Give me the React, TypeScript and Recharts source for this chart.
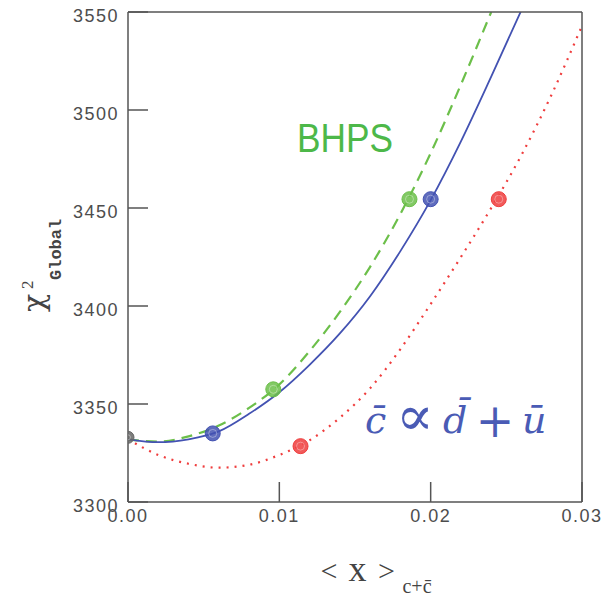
import React from 'react';
import { ComposedChart, Line, Scatter, XAxis, YAxis } from 'recharts';

// sampled curves, chi2 vs <x>_{c+cbar}
const xSamples = [0, 0.002, 0.004, 0.006, 0.008, 0.01, 0.012, 0.014, 0.016, 0.018, 0.02, 0.022, 0.024, 0.026, 0.028, 0.03];
const chi2Blue = [3332, 3330.5, 3332, 3336, 3345, 3356, 3370, 3386, 3405, 3428, 3454, 3484, 3517, 3551, null, null];
const chi2Green = [3332, 3330.8, 3333.5, 3339, 3348, 3360, 3377, 3397, 3420, 3447, 3478, 3513, 3550, null, null, null];
const chi2Red = [3332, 3324, 3319.5, 3317.5, 3319, 3324, 3331.5, 3343, 3358, 3378, 3401, 3425, 3450, 3477, 3508, 3543];

// fitted points
const blueMarkX = [0.0056, 0.02];
const blueMarkChi2 = [3335, 3454.5];
const greenMarkX = [0.0096, 0.0186];
const greenMarkChi2 = [3357.5, 3454.5];
const redMarkX = [0.0114, 0.0245];
const redMarkChi2 = [3328.5, 3454.5];
const zeroMarkX = [0];
const zeroMarkChi2 = [3333];

// axes
const xMajorTicks = [0, 0.01, 0.02, 0.03];
const xMinorTicks = [0, 0.002, 0.004, 0.006, 0.008, 0.01, 0.012, 0.014, 0.016, 0.018, 0.02, 0.022, 0.024, 0.026, 0.028, 0.03];
const xTickLabels = ['0.00', '0.01', '0.02', '0.03'];
const yMajorTicks = [3300, 3350, 3400, 3450, 3500, 3550];
const yMinorTicks = [3300, 3310, 3320, 3330, 3340, 3350, 3360, 3370, 3380, 3390, 3400, 3410, 3420, 3430, 3440, 3450, 3460, 3470, 3480, 3490, 3500, 3510, 3520, 3530, 3540, 3550];
const yTickLabels = ['3300', '3350', '3400', '3450', '3500', '3550'];

const X_DOMAIN = [0, 0.03];
const Y_DOMAIN = [3300, 3550];

const BLUE = '#4352b2';
const GREEN = '#6cbf4a';
const RED = '#ef3d3d';
const AXIS = '#555';

const toPoints = (xs: number[], ys: (number | null)[]) =>
  xs.map((x, i) => ({ x, y: ys[i] })).filter(p => p.y != null);

const tickFont = { fontFamily: 'Liberation Sans, Arial, sans-serif', fontSize: 18, fill: '#4d4d4d', letterSpacing: 1.5 };
const lineStyle = { stroke: AXIS, strokeWidth: 1.5 };

// labels: tickSize -20 (inward) + tickMargin 20 puts the label anchor back on the axis line
const BottomLabel = (props: any) => (
  <text x={props.x} y={props.y + 20} textAnchor="middle" {...tickFont}>{xTickLabels[props.index]}</text>
);

const LeftLabel = (props: any) => (
  <text x={props.x - 9} y={props.y + 9.5} textAnchor="end" {...tickFont}>{yTickLabels[props.index]}</text>
);

const marker = (color: string, r = 7.5) => (p: any) => (
  <g>
    <circle cx={p.cx} cy={p.cy} r={r} fill={color} fillOpacity={0.85} stroke={color} strokeWidth={1} />
    <circle cx={p.cx} cy={p.cy} r={r - 3.5} fill="none" stroke="#fff" strokeOpacity={0.35} strokeWidth={1} />
  </g>
);

export default function App() {
  return (
    <div style={{ position: 'absolute', left: 0, top: 0, width: 603, height: 597, background: '#fff' }}>
      <ComposedChart width={603} height={597} margin={{ top: 11, right: 20, bottom: 55, left: 68 }}>
        {/* main axes: labels + long major ticks */}
        <XAxis type="number" dataKey="x" domain={X_DOMAIN} allowDataOverflow ticks={xMajorTicks} interval={0}
          tickSize={-20} tickMargin={20} tickLine={lineStyle} tick={<BottomLabel />} height={40} axisLine={lineStyle} />
        <YAxis type="number" dataKey="y" domain={Y_DOMAIN} allowDataOverflow ticks={yMajorTicks} interval={0}
          tickSize={-20} tickMargin={20} tickLine={lineStyle} tick={<LeftLabel />} width={60} axisLine={lineStyle} />
        {/* frame: top and right with major ticks */}
        <XAxis xAxisId="top" orientation="top" type="number" domain={X_DOMAIN} allowDataOverflow ticks={xMajorTicks}
          interval={0} tickSize={-20} tickLine={lineStyle} tick={false} height={1} axisLine={lineStyle} />
        <YAxis yAxisId="right" orientation="right" type="number" domain={Y_DOMAIN} allowDataOverflow ticks={yMajorTicks}
          interval={0} tickSize={-20} tickLine={lineStyle} tick={false} width={1} axisLine={lineStyle} />
        {/* minor ticks, mirrored so they point inward */}
        <XAxis xAxisId="bMin" orientation="bottom" mirror type="number" domain={X_DOMAIN} allowDataOverflow
          ticks={xMinorTicks} interval={0} tickSize={6} tickLine={lineStyle} tick={false} axisLine={false} height={1} />
        <XAxis xAxisId="tMin" orientation="top" mirror type="number" domain={X_DOMAIN} allowDataOverflow
          ticks={xMinorTicks} interval={0} tickSize={6} tickLine={lineStyle} tick={false} axisLine={false} height={1} />
        <YAxis yAxisId="lMin" orientation="left" mirror type="number" domain={Y_DOMAIN} allowDataOverflow
          ticks={yMinorTicks} interval={0} tickSize={6} tickLine={lineStyle} tick={false} axisLine={false} width={1} />
        <YAxis yAxisId="rMin" orientation="right" mirror type="number" domain={Y_DOMAIN} allowDataOverflow
          ticks={yMinorTicks} interval={0} tickSize={6} tickLine={lineStyle} tick={false} axisLine={false} width={1} />

        <Line data={toPoints(xSamples, chi2Red)} dataKey="y" type="monotone" stroke={RED} strokeWidth={2.2}
          strokeDasharray="2 6" dot={false} activeDot={false} isAnimationActive={false} />
        <Line data={toPoints(xSamples, chi2Green)} dataKey="y" type="monotone" stroke={GREEN} strokeWidth={2.2}
          strokeDasharray="11 7" dot={false} activeDot={false} isAnimationActive={false} />
        <Line data={toPoints(xSamples, chi2Blue)} dataKey="y" type="monotone" stroke={BLUE} strokeWidth={1.8}
          dot={false} activeDot={false} isAnimationActive={false} />
        <Scatter data={toPoints(zeroMarkX, zeroMarkChi2)} shape={marker('#666', 6)} isAnimationActive={false} />
        <Scatter data={toPoints(blueMarkX, blueMarkChi2)} shape={marker(BLUE)} isAnimationActive={false} />
        <Scatter data={toPoints(greenMarkX, greenMarkChi2)} shape={marker(GREEN)} isAnimationActive={false} />
        <Scatter data={toPoints(redMarkX, redMarkChi2)} shape={marker(RED)} isAnimationActive={false} />
      </ComposedChart>

      <svg width={603} height={597} style={{ position: 'absolute', left: 0, top: 0, pointerEvents: 'none' }}>
        {/* y axis title */}
        <g transform="translate(44,312) rotate(-90)" fill="#444">
          <text x={0} y={0} fontFamily="DejaVu Serif, serif" fontSize={30}>χ</text>
          <text x={23} y={-11} fontFamily="Liberation Serif, serif" fontSize={17}>2</text>
          <text x={32} y={17} fontFamily="Liberation Mono, monospace" fontWeight="bold" fontSize={17}>Global</text>
        </g>
        {/* x axis title */}
        <g fill="#444">
          <text x={329} y={581} textAnchor="middle" fontFamily="Liberation Serif, serif" fontSize={30}>&lt;</text>
          <text x={357.5} y={581} textAnchor="middle" fontFamily="Liberation Serif, serif" fontSize={36}>x</text>
          <text x={386.5} y={581} textAnchor="middle" fontFamily="Liberation Serif, serif" fontSize={30}>&gt;</text>
          <text x={417} y={593} textAnchor="middle" fontFamily="Liberation Serif, serif" fontSize={20}>c+c̄</text>
        </g>
        {/* annotations */}
        <text x={297} y={152} textLength={96} lengthAdjust="spacingAndGlyphs" fontFamily="Liberation Sans, Arial, sans-serif"
          fontSize={40} fill="#4db849">BHPS</text>
        <g fill="#4a5bb5" fontFamily="DejaVu Serif, serif">
          <text x={365} y={433} fontSize={38} fontStyle="italic">c̄</text>
          <text x={415} y={435} fontSize={56} textAnchor="middle">∝</text>
          <text x={443} y={433} fontSize={38} fontStyle="italic">d̄</text>
          <text x={495} y={437} fontSize={46} textAnchor="middle">+</text>
          <text x={522} y={433} fontSize={38} fontStyle="italic">ū</text>
        </g>
      </svg>
    </div>
  );
}
